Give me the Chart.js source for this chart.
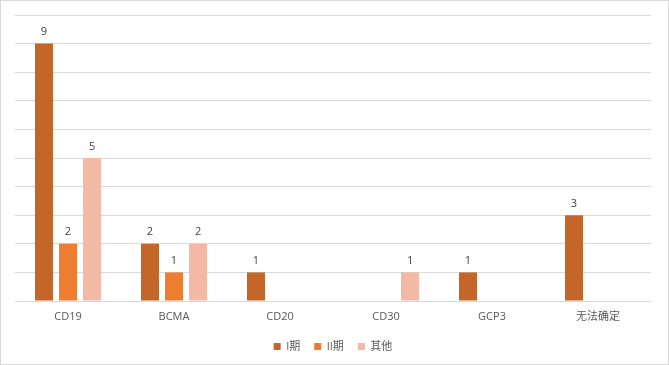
<!DOCTYPE html>
<html>
<head>
<meta charset="utf-8">
<script src="https://cdn.jsdelivr.net/npm/chart.js@4.4.0/dist/chart.umd.min.js"></script>
<style>
    html, body { margin: 0; padding: 0; background: #fff; }
    #wrap { width: 667px; height: 363px; border: 1px solid #d9d9d9; position: relative; }
</style>
</head>
<body>
<div id="wrap"><canvas id="myChart" width="667" height="363"></canvas></div>
<script>
const categories = ['CD19', 'BCMA', 'CD20', 'CD30', 'GCP3', '无法确定'];
const phase1 = [9, 2, 1, null, 1, 3];
const phase2 = [2, 1, null, null, null, null];
const others = [5, 2, null, 1, null, null];
const seriesNames = ['I期', 'II期', '其他'];

const fontFamily = '"Open Sans", "Noto Sans CJK SC", sans-serif';

// draws the value above every bar
const barLabels = {
    id: 'barLabels',
    afterDatasetsDraw(chart) {
        const ctx = chart.ctx;
        ctx.save();
        ctx.font = '11px ' + fontFamily;
        ctx.fillStyle = '#404040';
        ctx.textAlign = 'center';
        ctx.textBaseline = 'bottom';
        chart.data.datasets.forEach((ds, i) => {
            chart.getDatasetMeta(i).data.forEach((bar, j) => {
                const v = ds.data[j];
                if (v == null) return;
                ctx.fillText(v, bar.x, bar.y - 6);
            });
        });
        ctx.restore();
    }
};

const ctx = document.getElementById('myChart').getContext('2d');

const myChart = new Chart(ctx, {
    type: 'bar',
    data: {
        labels: categories,
        datasets: [
            { label: seriesNames[0], data: phase1, backgroundColor: '#C4652A' },
            { label: seriesNames[1], data: phase2, backgroundColor: '#ED7D31' },
            { label: seriesNames[2], data: others, backgroundColor: '#F4B9A4' }
        ]
    },
    options: {
        responsive: false,
        animation: false,
        datasets: {
            bar: { categoryPercentage: 0.68, barPercentage: 0.75 }
        },
        layout: {
            padding: { left: 14, right: 17, top: 14, bottom: 2 }
        },
        scales: {
            x: {
                grid: { display: false },
                border: { display: false },
                ticks: {
                    color: '#595959',
                    font: { family: fontFamily, size: 11, lineHeight: 1 },
                    padding: 2
                },
                afterFit(scale) {
                    scale.height += 3;
                }
            },
            y: {
                min: 0,
                max: 10,
                ticks: { display: false, stepSize: 1 },
                grid: { color: '#d9d9d9', drawTicks: false },
                border: { display: false }
            }
        },
        plugins: {
            legend: {
                position: 'bottom',
                labels: {
                    boxWidth: 7,
                    boxHeight: 7,
                    padding: 14,
                    color: '#595959',
                    font: { family: fontFamily, size: 11 }
                }
            },
            tooltip: { enabled: false }
        }
    },
    plugins: [barLabels]
});
</script>
</body>
</html>
